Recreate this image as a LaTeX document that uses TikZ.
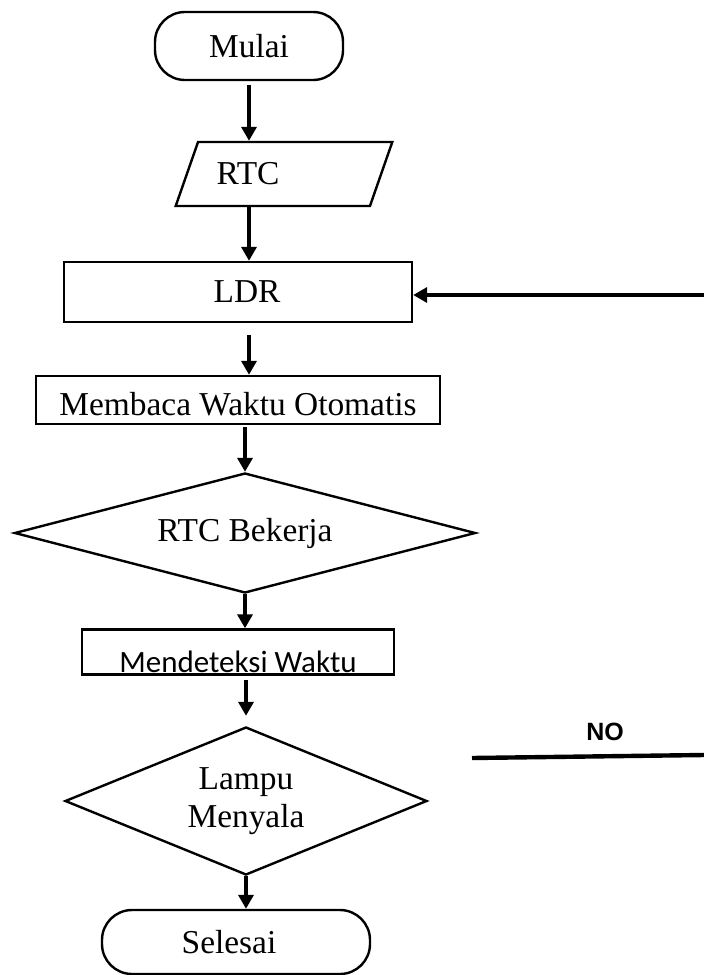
\documentclass[tikz,border=0pt]{standalone}
\usepackage{fontspec}
\setmainfont{Liberation Serif}
\newfontfamily\boxsans{Carlito}
\newfontfamily\labelsans{Liberation Sans}
\usetikzlibrary{shapes.geometric,arrows.meta}

\tikzset{
  base/.style = {draw, line width=1.2pt, inner sep=0pt, font=\fontsize{16.7}{19}\selectfont},
  terminal/.style = {base, rectangle, rounded corners=15pt},
  inputbox/.style = {base, trapezium, trapezium left angle=52, trapezium right angle=128, trapezium stretches=true},
  process/.style = {base, rectangle},
  decision/.style = {base, diamond, align=center},
  arrow/.style = {line width=2pt, -{Triangle[length=7pt,width=7.5pt]}},
  plain/.style = {line width=2.2pt},
}

\begin{document}
\begin{tikzpicture}[x=0.5pt, y=-0.5pt]
\useasboundingbox (0,0) rectangle (704,975);
\node (mulai) [terminal, minimum width=94pt, minimum height=34pt] at (249,46) {Mulai};
\node (rtc) [inputbox, minimum width=109pt, minimum height=32pt] at (284,174) {RTC\hspace*{36pt}};
\node (ldr) [process, minimum width=174pt, minimum height=30pt] at (238,292) {\hspace*{9pt}LDR};
\node (baca) [process, text height=15pt, text depth=0pt, minimum width=202pt, minimum height=24pt] at (238,400) {Membaca Waktu Otomatis};
\node (bekerja) [decision, shape aspect=3.8, minimum width=230.5pt, minimum height=60pt] at (245,533) {RTC Bekerja};
\node (deteksi) [process, font=\boxsans\fontsize{15.5}{18}\selectfont, text height=20pt, text depth=0pt, minimum width=156pt, minimum height=22.5pt] at (238,652) {Mendeteksi Waktu};
\node (lampu) [decision, shape aspect=2.45, minimum width=181pt, minimum height=74pt] at (246,801) {Lampu\\Menyala};
\node (selesai) [terminal, minimum width=134pt, minimum height=32pt] at (236,942) {Selesai\hspace*{7pt}};
\coordinate (back) at (704,295);
\coordinate (noleft) at (472,758);
\coordinate (noright) at (704,755);
\node (nolabel) [font=\labelsans\bfseries\fontsize{12.5}{15}\selectfont] at (605,732) {NO};

% main flow
\draw [arrow, shorten <=2pt] (mulai) -- (mulai |- rtc.north);
\draw [arrow] (rtc.south -| mulai) -- (ldr.north -| mulai);
\draw [arrow, shorten <=6pt] (ldr.south -| mulai) -- (baca.north -| mulai);
\draw [arrow, shorten <=1pt] (baca.south -| bekerja) -- (bekerja.north);
\draw [arrow] (bekerja.south) -- (bekerja.south |- deteksi.north);
\draw [arrow, shorten <=2pt, shorten >=5pt] (deteksi.south -| lampu) -- (lampu.north);
\draw [arrow] (lampu.south) -- (lampu.south |- selesai.north);
% loop back
\draw [arrow] (back) -- (ldr.east |- back);
\draw [plain] (noleft) -- (noright);
\end{tikzpicture}
\end{document}
